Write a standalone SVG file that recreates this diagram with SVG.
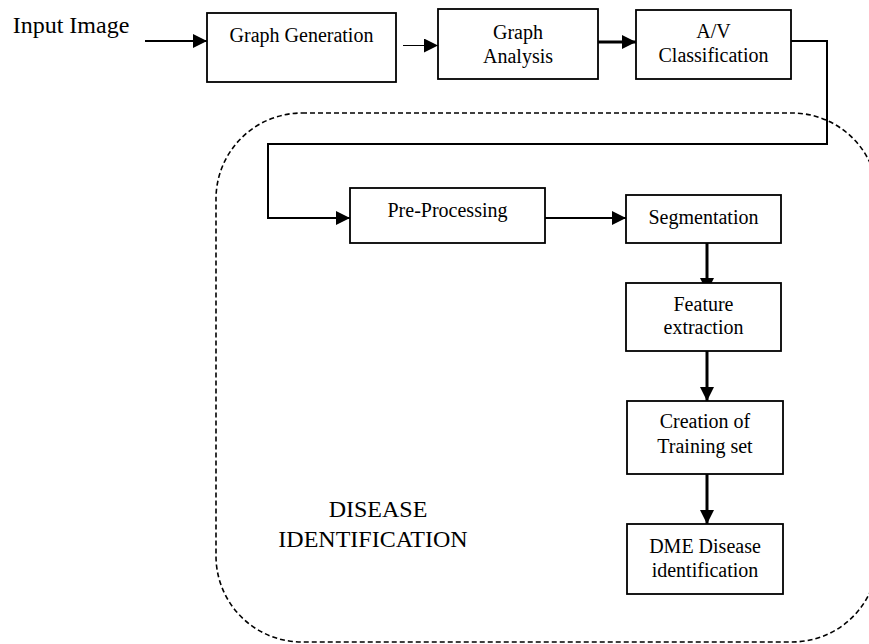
<svg xmlns="http://www.w3.org/2000/svg" width="869" height="644" viewBox="0 0 869 644">
<style>
text{font-family:"Liberation Serif","Tinos","Times New Roman","Nimbus Roman","DejaVu Serif",serif;fill:#000;text-anchor:middle}
.t20{font-size:20px}
.t24{font-size:24px}
.box{fill:#fff;stroke:#000;stroke-width:1.8}
.c{fill:none;stroke:#000}
</style>
<defs>
<marker id="ah" markerUnits="userSpaceOnUse" markerWidth="15" markerHeight="15" refX="14" refY="7" orient="auto">
<path d="M0,0 L14,7 L0,14 Z" fill="#000"/>
</marker>
</defs>
<rect id="region" x="216" y="113" width="662" height="529" rx="86" ry="86" fill="none" stroke="#000" stroke-width="1.6" stroke-dasharray="5,3"/>
<text class="t24" x="378" y="517" font-family="Liberation Serif, serif">DISEASE</text>
<text class="t24" x="373" y="547" font-family="Liberation Serif, serif">IDENTIFICATION</text>
<text class="t24" x="71" y="33" font-family="Liberation Serif, serif">Input Image</text>
<g id="connectors">
<line class="c" x1="145" y1="41" x2="207" y2="41" stroke-width="2" marker-end="url(#ah)"/>
<line class="c" x1="403" y1="45.5" x2="438" y2="45.5" stroke-width="1.2" marker-end="url(#ah)"/>
<line class="c" x1="598" y1="42" x2="636" y2="42" stroke-width="3" marker-end="url(#ah)"/>
<polyline class="c" points="791,41 827,41 827,144 268,144 268,218 350,218" stroke-width="2" marker-end="url(#ah)"/>
<line class="c" x1="545" y1="218" x2="626" y2="218" stroke-width="2.2" marker-end="url(#ah)"/>
<line class="c" x1="707" y1="243" x2="707" y2="292" stroke-width="3" marker-end="url(#ah)"/>
<line class="c" x1="707" y1="351" x2="707" y2="401" stroke-width="3" marker-end="url(#ah)"/>
<line class="c" x1="707" y1="474" x2="707" y2="524" stroke-width="3" marker-end="url(#ah)"/>
</g>
<g id="graph-generation">
<rect class="box" x="207" y="13" width="189" height="69"/>
<text class="t20" x="301.5" y="42">Graph Generation</text>
</g>
<g id="graph-analysis">
<rect class="box" x="438" y="9" width="160" height="70"/>
<text class="t20" x="518" y="39">Graph</text>
<text class="t20" x="518" y="63">Analysis</text>
</g>
<g id="av-classification">
<rect class="box" x="636" y="10" width="155" height="69"/>
<text class="t20" x="713.5" y="38">A/V</text>
<text class="t20" x="713.5" y="62">Classification</text>
</g>
<g id="pre-processing">
<rect class="box" x="350" y="188" width="195" height="55"/>
<text class="t20" x="447.5" y="217">Pre-Processing</text>
</g>
<g id="segmentation">
<rect class="box" x="626" y="195" width="155" height="48"/>
<text class="t20" x="703.5" y="224">Segmentation</text>
</g>
<g id="feature-extraction">
<rect class="box" x="626" y="283" width="155" height="68"/>
<text class="t20" x="703.5" y="311">Feature</text>
<text class="t20" x="703.5" y="334">extraction</text>
</g>
<g id="training-set">
<rect class="box" x="627" y="401" width="156" height="73"/>
<text class="t20" x="705" y="428">Creation of</text>
<text class="t20" x="705" y="453">Training set</text>
</g>
<g id="dme-identification">
<rect class="box" x="627" y="524" width="156" height="70"/>
<text class="t20" x="705" y="553">DME Disease</text>
<text class="t20" x="705" y="577">identification</text>
</g>
</svg>
